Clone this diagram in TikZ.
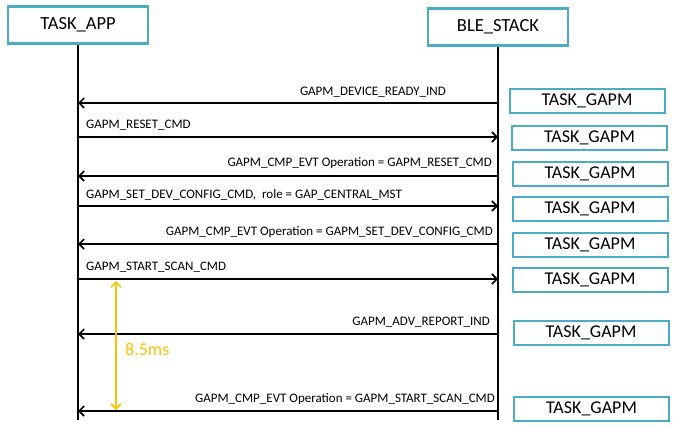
\documentclass[tikz,border=0pt]{standalone}
\usepackage{fontspec}
\setmainfont{Carlito}
\usetikzlibrary{arrows.meta}

\begin{document}
\begin{tikzpicture}[x=1pt, y=-1pt,
    taskbox/.style={draw=boxcolor, line width=2.5pt, minimum width=140pt, minimum height=37pt, font=\fontsize{18.5}{20}\selectfont},
    gapmbox/.style={draw=boxcolor, line width=2pt, minimum width=155pt, minimum height=24pt, inner sep=0pt, font=\fontsize{18}{20}\selectfont},
    lifeline/.style={line width=1.6pt},
    msg/.style={line width=1.6pt, -{Straight Barb[length=5pt,width=10pt,line width=1.6pt]}},
    msglabel/.style={font=\fontsize{13}{14}\selectfont, inner sep=0pt}]
    % Define colors
    \definecolor{boxcolor}{RGB}{75,172,198} % box border
    \definecolor{timecolor}{RGB}{255,192,0} % timing

    \useasboundingbox (0,0) rectangle (676,428);

    % Tasks
    \node[taskbox] (app) at (78,25) {TASK\_APP};
    \node[taskbox] (stack) at (498,27) {BLE\_STACK};

    % Lifelines
    \coordinate (append) at (app.south |- 0,420);
    \coordinate (stackend) at (stack.south |- 0,420);
    \draw[lifeline] (app.south) -- (append);
    \draw[lifeline] (stack.south) -- (stackend);

    % Messages
    \draw[msg] (stack.south |- 0,103) -- (app.south |- 0,103);
    \draw[msg] (app.south |- 0,137) -- (stack.south |- 0,137);
    \draw[msg] (stack.south |- 0,176) -- (app.south |- 0,176);
    \draw[msg] (app.south |- 0,206) -- (stack.south |- 0,206);
    \draw[msg] (stack.south |- 0,244) -- (app.south |- 0,244);
    \draw[msg] (app.south |- 0,279) -- (stack.south |- 0,279);
    \draw[msg] (stack.south |- 0,334) -- (app.south |- 0,334);
    \draw[msg] (stack.south |- 0,411) -- (app.south |- 0,411);

    % Message labels
    \node[msglabel, anchor=base east] (lbl1) at (446,95) {GAPM\_DEVICE\_READY\_IND};
    \node[msglabel, anchor=base west] (lbl2) at (86,128) {GAPM\_RESET\_CMD};
    \node[msglabel, anchor=base east] (lbl3) at (492,166) {GAPM\_CMP\_EVT Operation = GAPM\_RESET\_CMD};
    \node[msglabel, anchor=base west] (lbl4) at (86,198) {GAPM\_SET\_DEV\_CONFIG\_CMD,\ \ role = GAP\_CENTRAL\_MST};
    \node[msglabel, anchor=base east] (lbl5) at (493,235) {GAPM\_CMP\_EVT Operation = GAPM\_SET\_DEV\_CONFIG\_CMD};
    \node[msglabel, anchor=base west] (lbl6) at (86,270) {GAPM\_START\_SCAN\_CMD};
    \node[msglabel, anchor=base east] (lbl7) at (490,325) {GAPM\_ADV\_REPORT\_IND};
    \node[msglabel, anchor=base east] (lbl8) at (495,402) {GAPM\_CMP\_EVT Operation = GAPM\_START\_SCAN\_CMD};

    % Task boxes on the stack side
    \node[gapmbox] (gapm1) at (587,100.5) {TASK\_GAPM};
    \node[gapmbox] (gapm2) at (589.5,138) {TASK\_GAPM};
    \node[gapmbox] (gapm3) at (590,173.5) {TASK\_GAPM};
    \node[gapmbox] (gapm4) at (590,208.5) {TASK\_GAPM};
    \node[gapmbox] (gapm5) at (590,245) {TASK\_GAPM};
    \node[gapmbox] (gapm6) at (590,280) {TASK\_GAPM};
    \node[gapmbox] (gapm7) at (591,333) {TASK\_GAPM};
    \node[gapmbox] (gapm8) at (591.5,409) {TASK\_GAPM};

    % Scan timing
    \coordinate (tstart) at (116,281);
    \coordinate (tend) at (116,410);
    \draw[timecolor, line width=1.6pt, {Straight Barb[length=5pt,width=10pt]}-{Straight Barb[length=5pt,width=10pt]}] (tstart) -- (tend);
    \node[timecolor, anchor=base west, inner sep=0pt, font=\fontsize{18}{20}\selectfont] (delay) at (125,355) {8.5ms};
\end{tikzpicture}
\end{document}
